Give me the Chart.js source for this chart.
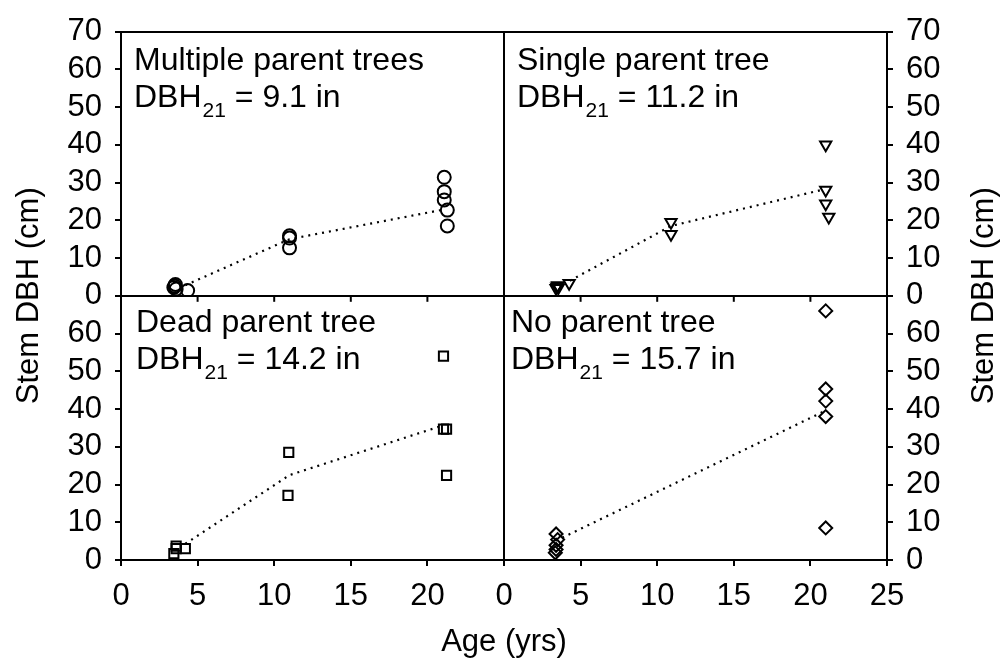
<!DOCTYPE html>
<html>
<head>
<meta charset="utf-8">
<script src="https://cdn.jsdelivr.net/npm/chart.js@4.4.1/dist/chart.umd.min.js"></script>
<style>
  html, body { margin: 0; padding: 0; background: #fff; }
  #wrap { width: 1001px; height: 662px; }
</style>
</head>
<body>
<div id="wrap"><canvas id="grafico" width="1001" height="662"></canvas></div>
<script>
// Dados (idade em anos, DBH em cm)
const ageMulti = [3.45, 3.55, 3.6, 3.5, 4.35, 11, 11, 11, 21.1, 21.1, 21.1, 21.3, 21.3];
const dbhMulti = [2.2, 3.0, 1.8, 2.6, 1.4, 15.9, 15.3, 12.7, 31.4, 27.6, 25.4, 22.7, 18.5];
const trendAgeMulti = [4.2, 11, 21];
const trendDbhMulti = [2.8, 15.0, 22.8];

const ageSingle = [3.4, 3.45, 3.5, 3.55, 4.25, 10.9, 10.9, 21.0, 21.0, 21.0, 21.2];
const dbhSingle = [2.0, 2.4, 2.7, 2.2, 3.3, 19.5, 16.3, 40.0, 28.0, 24.4, 20.9];
const trendAgeSingle = [4.3, 10.9, 20.9];
const trendDbhSingle = [4.0, 18.5, 28.2];

const ageDead = [3.45, 3.6, 3.6, 4.2, 10.95, 10.9, 21.05, 21.05, 21.25, 21.25];
const dbhDead = [1.7, 3.7, 3.0, 3.0, 28.5, 17.1, 54.0, 34.7, 34.7, 22.4];
const trendAgeDead = [4.2, 11, 20.9];
const trendDbhDead = [4.3, 22.5, 35.5];

const ageNone = [3.4, 3.5, 3.4, 3.4, 3.35, 21, 21, 21, 21, 21];
const dbhNone = [6.9, 5.4, 3.9, 2.8, 1.9, 66.0, 45.3, 42.1, 38.0, 8.5];
const trendAgeNone = [3.8, 20.9];
const trendDbhNone = [5.9, 39.4];

const panelTitles = ["Multiple parent trees", "Single parent tree", "Dead parent tree", "No parent tree"];
const panelDbh21 = ["9.1", "11.2", "14.2", "15.7"];
const xTicks = [0, 5, 10, 15, 20, 25];

const FONT = '"Liberation Sans", Arial, sans-serif';

function pts(xs, ys) {
  return xs.map((x, i) => ({ x, y: ys[i] }));
}

function scatterSet(xs, ys, style, xID, yID, rotation) {
  return {
    data: pts(xs, ys),
    xAxisID: xID,
    yAxisID: yID,
    showLine: false,
    pointStyle: style,
    pointRotation: rotation || 0,
    pointRadius: 6.5,
    pointBorderWidth: 2,
    pointBorderColor: "#000",
    pointBackgroundColor: "rgba(0,0,0,0)",
  };
}

function trendSet(xs, ys, xID, yID) {
  return {
    data: pts(xs, ys),
    xAxisID: xID,
    yAxisID: yID,
    showLine: true,
    borderColor: "#000",
    borderWidth: 2.2,
    borderDash: [2, 5],
    pointRadius: 0,
  };
}

function yScale(position, weight, showTop, gridLines) {
  return {
    type: "linear",
    position,
    stack: "y" + position,
    weight,
    min: 0,
    max: 70,
    ticks: {
      stepSize: 10,
      autoSkip: false,
      padding: 13,
      color: "#000",
      font: { family: FONT, size: 31 },
      callback: (v) => (!showTop && v === 70 ? "" : v),
    },
    grid: {
      lineWidth: 2,
      tickLength: 6,
      tickColor: "#000",
      color: (c) => (gridLines && c.tick && (c.tick.value === 70 || c.tick.value === 0) ? "#000" : "rgba(0,0,0,0)"),
    },
    border: { display: true, color: "#000", width: 2 },
    afterFit: (s) => { s.width = position === "left" ? 121 : 114; },
  };
}

function xScale(weight, hideLast, midLine) {
  return {
    type: "linear",
    position: "bottom",
    stack: "xbottom",
    weight,
    min: 0,
    max: 25,
    ticks: {
      stepSize: 5,
      autoSkip: false,
      maxRotation: 0,
      padding: 12,
      color: "#000",
      font: { family: FONT, size: 31 },
      callback: (v) => (hideLast && v === 25 ? "" : v),
    },
    grid: {
      lineWidth: 2,
      tickLength: 6,
      tickColor: "#000",
      color: (c) => (midLine && c.tick && c.tick.value === 25 ? "#000" : "rgba(0,0,0,0)"),
    },
    border: { display: true, color: "#000", width: 2 },
    afterFit: (s) => { s.height = 102; },
  };
}

function drawPanelText(ctx, x, y, title, value) {
  ctx.font = "32px " + FONT;
  ctx.fillText(title, x, y);
  const y2 = y + 37;
  ctx.fillText("DBH", x, y2);
  const w1 = ctx.measureText("DBH").width + 1;
  ctx.font = "21px " + FONT;
  ctx.fillText("21", x + w1, y2 + 10);
  const w2 = ctx.measureText("21").width;
  ctx.font = "32px " + FONT;
  ctx.fillText(" = " + value + " in", x + w1 + w2, y2);
}

// Textos dos painéis, títulos dos eixos e marcas na linha do meio
const painelPlugin = {
  id: "painel",
  afterDraw(chart) {
    const { ctx, scales } = chart;
    const { xL, xR, yT, yB } = scales;
    ctx.save();
    ctx.fillStyle = "#000";
    ctx.textAlign = "left";
    ctx.textBaseline = "alphabetic";
    drawPanelText(ctx, xL.left + 13, yT.top + 38, panelTitles[0], panelDbh21[0]);
    drawPanelText(ctx, xR.left + 13, yT.top + 38, panelTitles[1], panelDbh21[1]);
    drawPanelText(ctx, xL.left + 15, yB.top + 36, panelTitles[2], panelDbh21[2]);
    drawPanelText(ctx, xR.left + 7, yB.top + 36, panelTitles[3], panelDbh21[3]);

    // marcas do eixo x dos painéis de cima
    ctx.strokeStyle = "#000";
    ctx.lineWidth = 2;
    [xL, xR].forEach((s) => {
      xTicks.forEach((v) => {
        const px = s.getPixelForValue(v);
        ctx.beginPath();
        ctx.moveTo(px, yB.top);
        ctx.lineTo(px, yB.top + 6);
        ctx.stroke();
      });
    });

    // títulos dos eixos
    ctx.font = "31px " + FONT;
    ctx.textAlign = "center";
    ctx.fillText("Age (yrs)", (xL.left + xR.right) / 2, 651);
    const midY = (yT.top + yB.bottom) / 2;
    [38, 993].forEach((bx) => {
      ctx.save();
      ctx.translate(bx, midY);
      ctx.rotate(-Math.PI / 2);
      ctx.fillText("Stem DBH (cm)", 0, 0);
      ctx.restore();
    });
    ctx.restore();
  },
};

new Chart(document.getElementById("grafico").getContext("2d"), {
  type: "scatter",
  data: {
    datasets: [
      scatterSet(ageMulti, dbhMulti, "circle", "xL", "yT"),
      trendSet(trendAgeMulti, trendDbhMulti, "xL", "yT"),
      scatterSet(ageSingle, dbhSingle, "triangle", "xR", "yT", 180),
      trendSet(trendAgeSingle, trendDbhSingle, "xR", "yT"),
      scatterSet(ageDead, dbhDead, "rect", "xL", "yB"),
      trendSet(trendAgeDead, trendDbhDead, "xL", "yB"),
      scatterSet(ageNone, dbhNone, "rectRot", "xR", "yB"),
      trendSet(trendAgeNone, trendDbhNone, "xR", "yB"),
    ],
  },
  options: {
    responsive: false,
    animation: false,
    layout: { padding: { top: 22, left: 0, right: 0, bottom: 0 } },
    plugins: { legend: { display: false }, tooltip: { enabled: false } },
    scales: {
      xL: xScale(1, true, true),
      xR: xScale(2, false, false),
      yT: yScale("left", 2, true, true),
      yB: yScale("left", 1, false, false),
      yTR: yScale("right", 1, true, false),
      yBR: yScale("right", 2, false, false),
    },
  },
  plugins: [painelPlugin],
});
</script>
</body>
</html>
